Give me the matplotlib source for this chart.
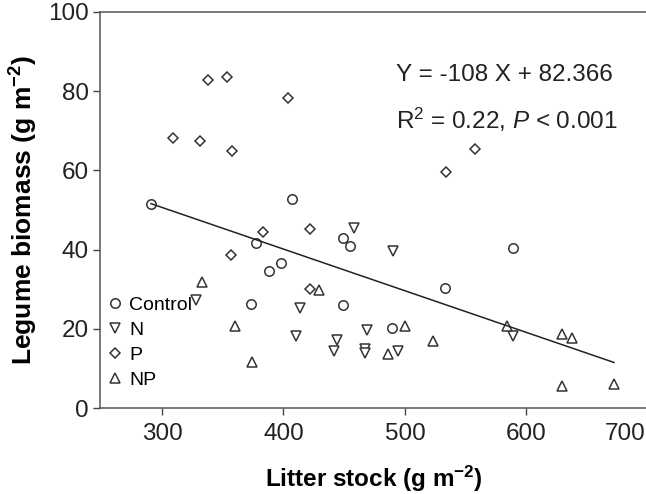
import matplotlib
matplotlib.use("Agg")
import matplotlib.pyplot as plt
import matplotlib.transforms as mtransforms

plt.rcParams['font.family'] = ['Liberation Sans', 'DejaVu Sans']
plt.rcParams['mathtext.fontset'] = 'custom'
plt.rcParams['mathtext.rm'] = 'Liberation Sans'
plt.rcParams['mathtext.it'] = 'Liberation Sans:italic'
plt.rcParams['mathtext.bf'] = 'Liberation Sans:bold'

#%% Data
control_x = [291, 406.8, 377.6, 448.8, 454.8, 398.1, 388, 373.5, 449.3, 489, 588.5, 533.2]
control_y = [51.6, 52.9, 41.6, 42.9, 40.8, 36.6, 34.6, 26.2, 26.1, 20.2, 40.4, 30.3]

n_x = [457.8, 489.9, 328.3, 413.7, 468.5, 409.9, 443.8, 441.4, 467.5, 467.5, 494, 588.5]
n_y = [45.4, 39.7, 27.3, 25.2, 19.8, 18.1, 17.2, 14.5, 14.9, 13.8, 14.3, 18.2]

p_x = [337.8, 353.4, 404.1, 309, 331.6, 357.9, 383, 422, 357, 422.2, 557.8, 533.7]
p_y = [82.8, 83.5, 78.2, 68.3, 67.4, 64.9, 44.4, 45.2, 38.7, 30.0, 65.4, 59.5]

np_x = [429, 332.9, 359.8, 500.3, 486, 374, 523.3, 583.6, 629.6, 637.8, 629.1, 672.1]
np_y = [29.9, 31.9, 20.6, 20.8, 13.7, 11.5, 16.8, 20.8, 18.7, 17.8, 5.6, 6.1]

# regression line end points
fit_x = [291, 672]
fit_y = [51.6, 11.5]

x_ticks = [300, 400, 500, 600, 700]
y_ticks = [0, 20, 40, 60, 80, 100]

#%% Plot
fig = plt.figure(figsize=(6.46, 4.94), dpi=100)
ax = fig.add_axes([100/646, 86/494, 548/646, 396/494])

mk = dict(linestyle='none', markerfacecolor='white', markeredgecolor='#333333',
          markeredgewidth=1.1)
ax.plot(control_x, control_y, marker='o', markersize=6.8, label='Control', **mk)
ax.plot(n_x, n_y, marker='v', markersize=7, label='N', **mk)
ax.plot(p_x, p_y, marker='D', markersize=5.2, label='P', **mk)
ax.plot(np_x, np_y, marker='^', markersize=7, label='NP', **mk)

ax.plot(fit_x, fit_y, color='#222222', linewidth=1.1)

ax.text(493, 84.1, 'Y = -108 X + 82.366', fontsize=17.5, color='#222222', va='center')
ax.text(493, 72.7, r'R$^2$ = 0.22, $\mathit{P}$ < 0.001', fontsize=17.5,
        color='#222222', va='center')

ax.set_xlim(249, 700)
ax.set_ylim(0, 100)
ax.set_xticks(x_ticks)
ax.set_yticks(y_ticks)
ax.tick_params(direction='out', length=5, width=1, colors='#444444',
               labelsize=17.5, labelcolor='#222222', pad=3)
ax.tick_params(axis='x', pad=6)
# last label sits at the cropped right edge
lab = ax.get_xticklabels()[-1]
lab.set_horizontalalignment('right')
lab.set_transform(lab.get_transform() + mtransforms.ScaledTranslation(-3/100, 0, fig.dpi_scale_trans))

ax.spines['right'].set_visible(False)
for s in ['left', 'bottom', 'top']:
    ax.spines[s].set_color('#555555')
    ax.spines[s].set_linewidth(1.1)

ax.set_xlabel(r'Litter stock (g m$^{\mathbf{-2}}$)', fontsize=17.5, fontweight='bold', labelpad=13)
ax.set_ylabel(r'Legume biomass (g m$^{\mathbf{-2}}$)', fontsize=19, fontweight='bold', labelpad=6)

ax.legend(loc='lower left', bbox_to_anchor=(0.014, 0.048), frameon=False, fontsize=14,
          handlelength=0.8, handletextpad=0.3, borderpad=0, borderaxespad=0,
          labelspacing=0.38)

fig.savefig('out.png', dpi=100)
